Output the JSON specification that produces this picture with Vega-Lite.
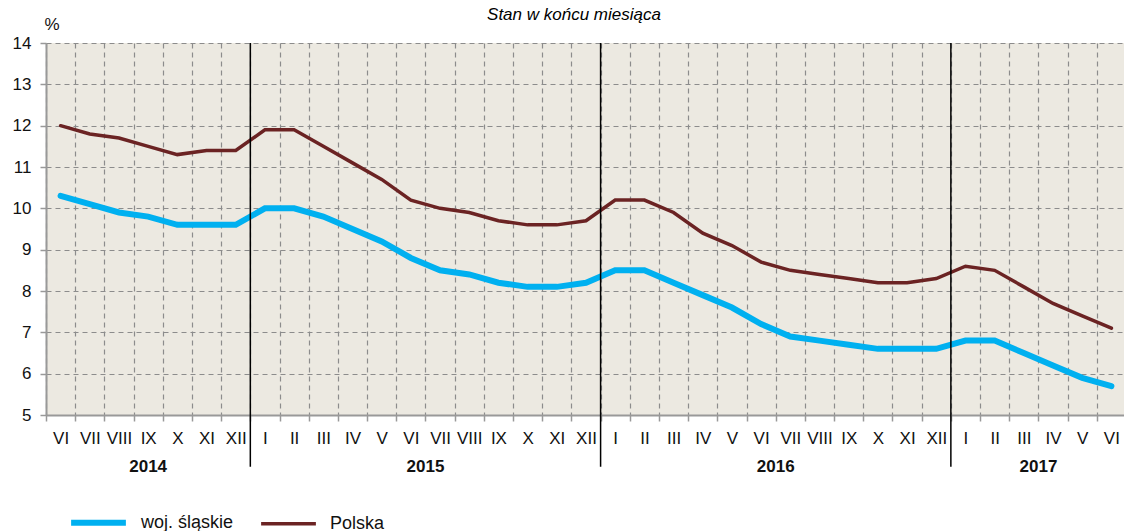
{
  "$schema": "https://vega.github.io/schema/vega-lite/v6.json",
  "autosize": "none",
  "width": 1080,
  "height": 372,
  "padding": {"left": 46, "top": 43, "right": 0, "bottom": 116},
  "background": "white",
  "title": {"text": "Stan w końcu miesiąca", "font": "Liberation Sans", "fontStyle": "italic", "fontWeight": "normal", "fontSize": 17, "color": "#000000", "anchor": "middle", "frame": "group", "dx": -12, "offset": -9},
  "config": {"view": {"fill": "#ECE9E1", "stroke": null}, "font": "Liberation Sans"},
  "datasets": {
    "main": [
      {"m": "VI|2014", "series": "woj. śląskie", "v": 10.3},
      {"m": "VII|2014", "series": "woj. śląskie", "v": 10.1},
      {"m": "VIII|2014", "series": "woj. śląskie", "v": 9.9},
      {"m": "IX|2014", "series": "woj. śląskie", "v": 9.8},
      {"m": "X|2014", "series": "woj. śląskie", "v": 9.6},
      {"m": "XI|2014", "series": "woj. śląskie", "v": 9.6},
      {"m": "XII|2014", "series": "woj. śląskie", "v": 9.6},
      {"m": "I|2015", "series": "woj. śląskie", "v": 10.0},
      {"m": "II|2015", "series": "woj. śląskie", "v": 10.0},
      {"m": "III|2015", "series": "woj. śląskie", "v": 9.8},
      {"m": "IV|2015", "series": "woj. śląskie", "v": 9.5},
      {"m": "V|2015", "series": "woj. śląskie", "v": 9.2},
      {"m": "VI|2015", "series": "woj. śląskie", "v": 8.8},
      {"m": "VII|2015", "series": "woj. śląskie", "v": 8.5},
      {"m": "VIII|2015", "series": "woj. śląskie", "v": 8.4},
      {"m": "IX|2015", "series": "woj. śląskie", "v": 8.2},
      {"m": "X|2015", "series": "woj. śląskie", "v": 8.1},
      {"m": "XI|2015", "series": "woj. śląskie", "v": 8.1},
      {"m": "XII|2015", "series": "woj. śląskie", "v": 8.2},
      {"m": "I|2016", "series": "woj. śląskie", "v": 8.5},
      {"m": "II|2016", "series": "woj. śląskie", "v": 8.5},
      {"m": "III|2016", "series": "woj. śląskie", "v": 8.2},
      {"m": "IV|2016", "series": "woj. śląskie", "v": 7.9},
      {"m": "V|2016", "series": "woj. śląskie", "v": 7.6},
      {"m": "VI|2016", "series": "woj. śląskie", "v": 7.2},
      {"m": "VII|2016", "series": "woj. śląskie", "v": 6.9},
      {"m": "VIII|2016", "series": "woj. śląskie", "v": 6.8},
      {"m": "IX|2016", "series": "woj. śląskie", "v": 6.7},
      {"m": "X|2016", "series": "woj. śląskie", "v": 6.6},
      {"m": "XI|2016", "series": "woj. śląskie", "v": 6.6},
      {"m": "XII|2016", "series": "woj. śląskie", "v": 6.6},
      {"m": "I|2017", "series": "woj. śląskie", "v": 6.8},
      {"m": "II|2017", "series": "woj. śląskie", "v": 6.8},
      {"m": "III|2017", "series": "woj. śląskie", "v": 6.5},
      {"m": "IV|2017", "series": "woj. śląskie", "v": 6.2},
      {"m": "V|2017", "series": "woj. śląskie", "v": 5.9},
      {"m": "VI|2017", "series": "woj. śląskie", "v": 5.7},
      {"m": "VI|2014", "series": "Polska", "v": 12.0},
      {"m": "VII|2014", "series": "Polska", "v": 11.8},
      {"m": "VIII|2014", "series": "Polska", "v": 11.7},
      {"m": "IX|2014", "series": "Polska", "v": 11.5},
      {"m": "X|2014", "series": "Polska", "v": 11.3},
      {"m": "XI|2014", "series": "Polska", "v": 11.4},
      {"m": "XII|2014", "series": "Polska", "v": 11.4},
      {"m": "I|2015", "series": "Polska", "v": 11.9},
      {"m": "II|2015", "series": "Polska", "v": 11.9},
      {"m": "III|2015", "series": "Polska", "v": 11.5},
      {"m": "IV|2015", "series": "Polska", "v": 11.1},
      {"m": "V|2015", "series": "Polska", "v": 10.7},
      {"m": "VI|2015", "series": "Polska", "v": 10.2},
      {"m": "VII|2015", "series": "Polska", "v": 10.0},
      {"m": "VIII|2015", "series": "Polska", "v": 9.9},
      {"m": "IX|2015", "series": "Polska", "v": 9.7},
      {"m": "X|2015", "series": "Polska", "v": 9.6},
      {"m": "XI|2015", "series": "Polska", "v": 9.6},
      {"m": "XII|2015", "series": "Polska", "v": 9.7},
      {"m": "I|2016", "series": "Polska", "v": 10.2},
      {"m": "II|2016", "series": "Polska", "v": 10.2},
      {"m": "III|2016", "series": "Polska", "v": 9.9},
      {"m": "IV|2016", "series": "Polska", "v": 9.4},
      {"m": "V|2016", "series": "Polska", "v": 9.1},
      {"m": "VI|2016", "series": "Polska", "v": 8.7},
      {"m": "VII|2016", "series": "Polska", "v": 8.5},
      {"m": "VIII|2016", "series": "Polska", "v": 8.4},
      {"m": "IX|2016", "series": "Polska", "v": 8.3},
      {"m": "X|2016", "series": "Polska", "v": 8.2},
      {"m": "XI|2016", "series": "Polska", "v": 8.2},
      {"m": "XII|2016", "series": "Polska", "v": 8.3},
      {"m": "I|2017", "series": "Polska", "v": 8.6},
      {"m": "II|2017", "series": "Polska", "v": 8.5},
      {"m": "III|2017", "series": "Polska", "v": 8.1},
      {"m": "IV|2017", "series": "Polska", "v": 7.7},
      {"m": "V|2017", "series": "Polska", "v": 7.4},
      {"m": "VI|2017", "series": "Polska", "v": 7.1}
    ],
    "years": [
      {"year": "2014", "start": "VI|2014", "mid": "IX|2014", "centered": true},
      {"year": "2015", "start": "I|2015", "mid": "VII|2015", "centered": false},
      {"year": "2016", "start": "I|2016", "mid": "VII|2016", "centered": false},
      {"year": "2017", "start": "I|2017", "mid": "IV|2017", "centered": false}
    ]
  },
  "layer": [
    {
      "data": {"name": "main"},
      "mark": {"type": "line", "strokeCap": "round", "strokeJoin": "miter"},
      "encoding": {
        "x": {
          "field": "m", "type": "ordinal", "sort": null,
          "scale": {"paddingInner": 0, "paddingOuter": 0, "domain": ["VI|2014","VII|2014","VIII|2014","IX|2014","X|2014","XI|2014","XII|2014","I|2015","II|2015","III|2015","IV|2015","V|2015","VI|2015","VII|2015","VIII|2015","IX|2015","X|2015","XI|2015","XII|2015","I|2016","II|2016","III|2016","IV|2016","V|2016","VI|2016","VII|2016","VIII|2016","IX|2016","X|2016","XI|2016","XII|2016","I|2017","II|2017","III|2017","IV|2017","V|2017","VI|2017"]},
          "axis": {"title": null, "tickBand": "extent", "labelExpr": "isValid(datum.value) ? split(datum.value, '|')[0] : ''", "labelAngle": 0, "labelFontSize": 17, "labelColor": "#111111", "labelPadding": 9, "tickSize": 6, "tickColor": "#999999", "tickWidth": 1.5, "domainColor": "#999999", "domainWidth": 2, "grid": true, "gridColor": "#8c8c8c", "gridDash": [5, 4], "gridWidth": 1.2}
        },
        "y": {
          "field": "v", "type": "quantitative",
          "scale": {"domain": [5, 14], "nice": false, "zero": false},
          "axis": {"values": [5, 6, 7, 8, 9, 10, 11, 12, 13, 14], "title": "%", "titleAngle": 0, "titleX": -2, "titleY": -14, "titleAlign": "left", "titleBaseline": "alphabetic", "titleFontSize": 17, "titleFontWeight": "normal", "titleColor": "#111111", "labelFontSize": 17, "labelColor": "#111111", "labelPadding": 9, "tickSize": 6, "tickColor": "#999999", "tickWidth": 1.5, "domainColor": "#999999", "domainWidth": 2, "grid": true, "gridColor": "#8c8c8c", "gridDash": [5, 4], "gridWidth": 1.2}
        },
        "color": {
          "field": "series", "type": "nominal",
          "scale": {"domain": ["woj. śląskie", "Polska"], "range": ["#00B0F0", "#6B2323"]},
          "legend": {"orient": "none", "legendX": 22, "legendY": 449, "direction": "horizontal", "title": null, "symbolType": "stroke", "symbolSize": 3000, "labelFontSize": 18, "labelColor": "#111111", "labelOffset": 12, "columnPadding": 20}
        },
        "strokeWidth": {
          "field": "series", "type": "nominal",
          "scale": {"domain": ["woj. śląskie", "Polska"], "range": [6, 3.5]},
          "legend": {"orient": "none", "legendX": 22, "legendY": 449, "direction": "horizontal", "title": null, "symbolType": "stroke", "symbolSize": 3000, "labelFontSize": 18, "labelColor": "#111111", "labelOffset": 12, "columnPadding": 20}
        }
      }
    },
    {
      "data": {"name": "years"},
      "mark": {"type": "rule", "color": "#000000", "strokeWidth": 1.5, "clip": false},
      "transform": [{"filter": "datum.year != '2014'"}],
      "encoding": {
        "x": {"field": "start", "type": "ordinal", "sort": null, "bandPosition": 0},
        "y": {"datum": 14},
        "y2": {"datum": 3.75}
      }
    },
    {
      "data": {"name": "years"},
      "mark": {"type": "text", "fontWeight": "bold", "fontSize": 17, "color": "#111111", "baseline": "middle", "align": "center", "clip": false},
      "transform": [{"filter": "datum.centered"}],
      "encoding": {
        "x": {"field": "mid", "type": "ordinal", "sort": null, "bandPosition": 0.5},
        "y": {"datum": 3.75},
        "text": {"field": "year"}
      }
    },
    {
      "data": {"name": "years"},
      "mark": {"type": "text", "fontWeight": "bold", "fontSize": 17, "color": "#111111", "baseline": "middle", "align": "center", "clip": false},
      "transform": [{"filter": "!datum.centered"}],
      "encoding": {
        "x": {"field": "mid", "type": "ordinal", "sort": null, "bandPosition": 0},
        "y": {"datum": 3.75},
        "text": {"field": "year"}
      }
    }
  ]
}
